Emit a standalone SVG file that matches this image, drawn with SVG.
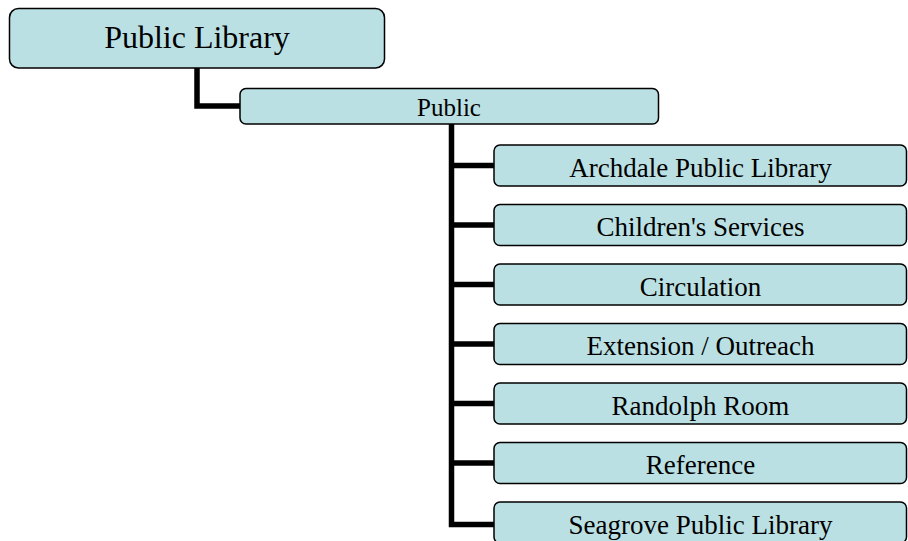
<svg xmlns="http://www.w3.org/2000/svg" width="908" height="541" viewBox="0 0 908 541">
<style>
.box{fill:#BBE0E3;stroke:#000;stroke-width:1.5}
text{font-family:"Liberation Serif","Times New Roman",serif;fill:#000;text-anchor:middle}
.c{fill:none;stroke:#000;stroke-width:5.5;stroke-linejoin:miter}
</style>
<rect width="908" height="541" fill="#fff"/>
<g id="connectors">
<path class="c" d="M197,68 V106 H240"/>
<path class="c" d="M451.5,124 V524.5 H494"/>
<path class="c" d="M451.5,165.5 H494 M451.5,225 H494 M451.5,284.5 H494 M451.5,344 H494 M451.5,403.5 H494 M451.5,463 H494"/>
</g>
<g id="n-root"><rect class="box" x="9.5" y="8.5" width="375" height="59.5" rx="9"/><text x="197" y="48" font-size="32">Public Library</text></g>
<g id="n-public"><rect class="box" x="240" y="88.5" width="418.5" height="35.5" rx="6"/><text x="449" y="115.5" font-size="25">Public</text></g>
<g id="n-archdale"><rect class="box" x="494" y="145" width="412.5" height="41" rx="6"/><text x="700.5" y="176.5" font-size="27">Archdale Public Library</text></g>
<g id="n-children"><rect class="box" x="494" y="204.5" width="412.5" height="41" rx="6"/><text x="700.5" y="236" font-size="27">Children's Services</text></g>
<g id="n-circulation"><rect class="box" x="494" y="264" width="412.5" height="41" rx="6"/><text x="700.5" y="295.5" font-size="27">Circulation</text></g>
<g id="n-extension"><rect class="box" x="494" y="323.5" width="412.5" height="41" rx="6"/><text x="700.5" y="355" font-size="27">Extension / Outreach</text></g>
<g id="n-randolph"><rect class="box" x="494" y="383" width="412.5" height="41" rx="6"/><text x="700.5" y="414.5" font-size="27">Randolph Room</text></g>
<g id="n-reference"><rect class="box" x="494" y="442.5" width="412.5" height="41" rx="6"/><text x="700.5" y="474" font-size="27">Reference</text></g>
<g id="n-seagrove"><rect class="box" x="494" y="502" width="412.5" height="41" rx="6"/><text x="700.5" y="533.5" font-size="27">Seagrove Public Library</text></g>
</svg>
